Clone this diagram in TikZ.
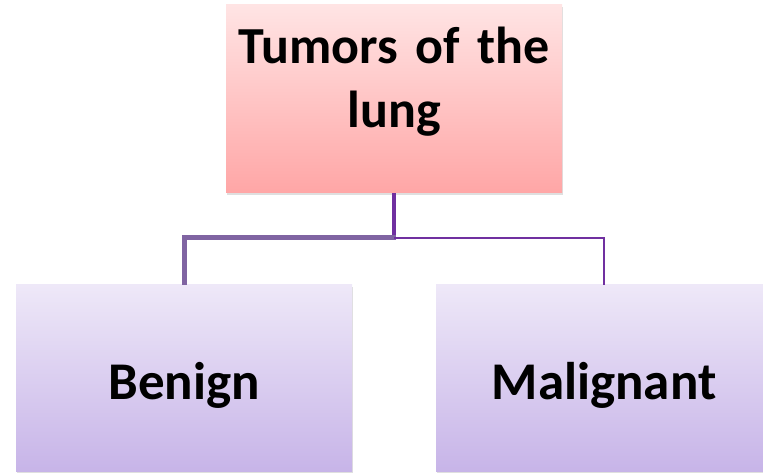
\documentclass[tikz,border=0pt]{standalone}
\usepackage{fontspec}
\setmainfont{Carlito}
\usepackage{tikz}
\usetikzlibrary{positioning,shadows}
\definecolor{rootTop}{RGB}{255,228,228}
\definecolor{rootBottom}{RGB}{255,166,166}
\definecolor{leafTop}{RGB}{238,232,248}
\definecolor{leafBottom}{RGB}{199,180,232}
\definecolor{linkDark}{RGB}{112,48,160}
\definecolor{linkSoft}{RGB}{128,100,162}

\begin{document}
\begin{tikzpicture}[
    x=1pt, y=1pt,
    root box/.style={rectangle, top color=rootTop, bottom color=rootBottom,
      minimum width=336pt, minimum height=188pt,
      drop shadow={opacity=0.25, shadow xshift=1pt, shadow yshift=-2pt}},
    root text/.style={text width=330pt, align=center,
      font=\fontsize{52}{64}\selectfont\bfseries},
    leaf box/.style={rectangle, top color=leafTop, bottom color=leafBottom,
      minimum width=336pt, minimum height=187pt, align=center,
      text height=50pt, text depth=7pt,
      font=\fontsize{53}{64}\selectfont\bfseries,
      drop shadow={opacity=0.25, shadow xshift=1pt, shadow yshift=-2pt}},
    stem link/.style={draw=linkDark, line width=4pt},
    heavy link/.style={draw=linkSoft, line width=5pt},
    light link/.style={draw=linkDark, line width=2pt}
]
  \useasboundingbox[fill=white] (0,0) rectangle (763,473);
  \clip (0,0) rectangle (763,473);

  \node[root box] (tumor) at (394,374) {};
  \node[root text, anchor=base] (tumorText) at (394,409) {Tumors of the\\lung};
  \node[leaf box] (benign) at (184,94.5) {Benign};
  \node[leaf box] (malignant) at (604,94.5) {Malignant};
  \coordinate (split) at (394,235);

  \draw[stem link] (tumor.south) -- (split);
  \draw[heavy link, line join=miter] ([xshift=2pt]split) -| (benign.north);
  \draw[light link, line join=miter] (split) -| (malignant.north);
\end{tikzpicture}
\end{document}
